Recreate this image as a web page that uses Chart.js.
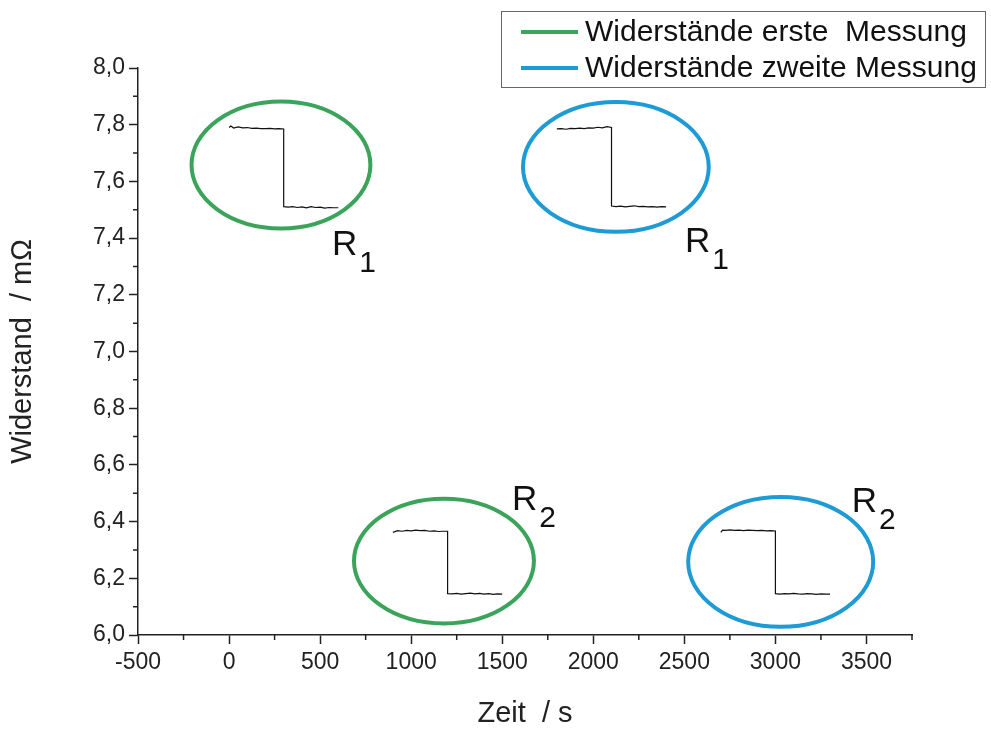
<!DOCTYPE html>
<html>
<head>
<meta charset="utf-8">
<script src="https://cdn.jsdelivr.net/npm/chart.js@4.4.0/dist/chart.umd.min.js"></script>
<style>
  html, body { margin: 0; padding: 0; background: #fff; }
</style>
</head>
<body>
<canvas id="resChart" width="991" height="734"></canvas>
<script>
// Widerstände, erste Messung
const r1FirstTime = [0, 10, 25, 50, 75, 100, 125, 150, 175, 200, 225, 250, 275, 300, 300, 325, 350, 375, 400, 425, 450, 475, 500, 525, 550, 575, 600];
const r1FirstValue = [7.790, 7.795, 7.788, 7.792, 7.789, 7.790, 7.787, 7.788, 7.786, 7.786, 7.787, 7.785, 7.786, 7.785, 7.511, 7.509, 7.511, 7.508, 7.510, 7.507, 7.511, 7.508, 7.509, 7.506, 7.508, 7.507, 7.507];
const r2FirstTime = [900, 925, 950, 975, 1000, 1025, 1050, 1075, 1100, 1125, 1150, 1175, 1200, 1200, 1225, 1250, 1275, 1300, 1325, 1350, 1375, 1400, 1425, 1450, 1475, 1500];
const r2FirstValue = [6.362, 6.368, 6.366, 6.369, 6.367, 6.370, 6.368, 6.369, 6.366, 6.367, 6.365, 6.366, 6.366, 6.146, 6.145, 6.147, 6.144, 6.146, 6.148, 6.145, 6.147, 6.144, 6.146, 6.143, 6.145, 6.144];

// Widerstände, zweite Messung
const r1SecondTime = [1800, 1825, 1850, 1875, 1900, 1925, 1950, 1975, 2000, 2025, 2050, 2075, 2100, 2100, 2125, 2150, 2175, 2200, 2225, 2250, 2275, 2300, 2325, 2350, 2375, 2400];
const r1SecondValue = [7.785, 7.786, 7.784, 7.787, 7.786, 7.788, 7.786, 7.789, 7.788, 7.791, 7.789, 7.793, 7.790, 7.513, 7.511, 7.513, 7.510, 7.512, 7.514, 7.511, 7.512, 7.510, 7.511, 7.509, 7.511, 7.510];
const r2SecondTime = [2700, 2710, 2725, 2750, 2775, 2800, 2825, 2850, 2875, 2900, 2925, 2950, 2975, 3000, 3000, 3025, 3050, 3075, 3100, 3125, 3150, 3175, 3200, 3225, 3250, 3275, 3300];
const r2SecondValue = [6.362, 6.370, 6.369, 6.371, 6.369, 6.370, 6.368, 6.370, 6.369, 6.368, 6.369, 6.367, 6.368, 6.367, 6.146, 6.144, 6.146, 6.145, 6.147, 6.145, 6.144, 6.146, 6.145, 6.143, 6.145, 6.144, 6.144];

// Markierungen (Ellipsen) in Datenkoordinaten
const ringCenterTime = [285, 1180, 2124, 3029];
const ringCenterValue = [7.658, 6.261, 7.651, 6.258];
const ringRadiusTime = [491, 494, 510, 508];
const ringRadiusValue = [0.224, 0.220, 0.229, 0.229];
const ringGroup = [0, 0, 1, 1];

// Beschriftungen R1 / R2
const tagText = ['R', 'R', 'R', 'R'];
const tagIndex = ['1', '2', '1', '2'];
const tagTime = [565, 1553, 2503, 3419];
const tagValue = [7.340, 6.441, 7.351, 6.434];

const legendLabels = ['Widerstände erste  Messung', 'Widerstände zweite Messung'];
const groupColors = ['#3ba35a', '#1e9bd4'];

// Achsen
const xTickValues = [-500, 0, 500, 1000, 1500, 2000, 2500, 3000, 3500];
const yTickValues = [6.0, 6.2, 6.4, 6.6, 6.8, 7.0, 7.2, 7.4, 7.6, 7.8, 8.0];
const xMin = -500;
const xMax = 3750;
const yMin = 6.0;
const yMax = 8.0;

const FONT = "'Liberation Sans', Arial, sans-serif";

const toPoints = (times, values) => times.map((t, i) => ({ x: t, y: values[i] }));

const traceDataset = (label, times, values) => ({
    label: label,
    data: toPoints(times, values),
    borderColor: '#111',
    borderWidth: 1.2,
    pointRadius: 0,
    tension: 0,
    fill: false
});

const ringsPlugin = {
    id: 'rings',
    afterDatasetsDraw(chart) {
        const ctx = chart.ctx;
        const xs = chart.scales.x;
        const ys = chart.scales.y;
        ctx.save();
        for (let i = 0; i < ringCenterTime.length; i++) {
            const cx = xs.getPixelForValue(ringCenterTime[i]);
            const cy = ys.getPixelForValue(ringCenterValue[i]);
            const rx = Math.abs(xs.getPixelForValue(ringCenterTime[i] + ringRadiusTime[i]) - cx);
            const ry = Math.abs(ys.getPixelForValue(ringCenterValue[i] + ringRadiusValue[i]) - cy);
            ctx.beginPath();
            ctx.ellipse(cx, cy, rx, ry, 0, 0, Math.PI * 2);
            ctx.strokeStyle = groupColors[ringGroup[i]];
            ctx.lineWidth = 4;
            ctx.stroke();
        }
        // R-Beschriftungen
        ctx.fillStyle = '#111';
        ctx.textBaseline = 'alphabetic';
        ctx.textAlign = 'left';
        for (let i = 0; i < tagText.length; i++) {
            const px = xs.getPixelForValue(tagTime[i]);
            const py = ys.getPixelForValue(tagValue[i]);
            ctx.font = '35px ' + FONT;
            ctx.fillText(tagText[i], px, py);
            const w = ctx.measureText(tagText[i]).width;
            ctx.font = '30px ' + FONT;
            ctx.fillText(tagIndex[i], px + w + 2, py + 17);
        }
        ctx.restore();
    }
};

const minorTicksPlugin = {
    id: 'minorTicks',
    afterDraw(chart) {
        const ctx = chart.ctx;
        const xs = chart.scales.x;
        const ys = chart.scales.y;
        ctx.save();
        ctx.strokeStyle = '#222';
        ctx.lineWidth = 1.5;
        ctx.beginPath();
        const xt = xs.ticks.map(t => t.value);
        for (let i = 0; i < xt.length; i++) {
            const mid = i < xt.length - 1 ? (xt[i] + xt[i + 1]) / 2 : xt[i] + (xt[1] - xt[0]) / 2;
            if (mid > xs.max) continue;
            const px = xs.getPixelForValue(mid);
            ctx.moveTo(px, xs.top);
            ctx.lineTo(px, xs.top + 5);
        }
        const yt = ys.ticks.map(t => t.value);
        for (let i = 0; i < yt.length - 1; i++) {
            const py = ys.getPixelForValue((yt[i] + yt[i + 1]) / 2);
            ctx.moveTo(ys.right, py);
            ctx.lineTo(ys.right - 5, py);
        }
        ctx.stroke();
        ctx.restore();
    }
};

const boxLegendPlugin = {
    id: 'boxLegend',
    afterDraw(chart) {
        const ctx = chart.ctx;
        ctx.save();
        ctx.strokeStyle = '#666';
        ctx.lineWidth = 1;
        ctx.strokeRect(501.5, 11.5, 484, 76);
        ctx.font = '30px ' + FONT;
        ctx.textBaseline = 'middle';
        ctx.textAlign = 'left';
        legendLabels.forEach((label, i) => {
            const y = 32 + i * 36;
            ctx.beginPath();
            ctx.moveTo(521, y);
            ctx.lineTo(578, y);
            ctx.strokeStyle = groupColors[i];
            ctx.lineWidth = 4;
            ctx.stroke();
            ctx.fillStyle = '#111';
            ctx.fillText(label, 585, y + 1);
        });
        ctx.restore();
    }
};

const ctx = document.getElementById('resChart').getContext('2d');
new Chart(ctx, {
    type: 'line',
    data: {
        datasets: [
            traceDataset('R1 erste Messung', r1FirstTime, r1FirstValue),
            traceDataset('R2 erste Messung', r2FirstTime, r2FirstValue),
            traceDataset('R1 zweite Messung', r1SecondTime, r1SecondValue),
            traceDataset('R2 zweite Messung', r2SecondTime, r2SecondValue)
        ]
    },
    options: {
        responsive: false,
        animation: false,
        layout: { padding: { top: 68, right: 79, left: 0, bottom: 0 } },
        plugins: {
            legend: { display: false },
            tooltip: { enabled: false }
        },
        scales: {
            x: {
                type: 'linear',
                min: xMin,
                max: xMax,
                afterFit: (scale) => { scale.height = 99; },
                afterBuildTicks: (scale) => { scale.ticks = xTickValues.map(v => ({ value: v })); },
                border: { display: true, color: '#222', width: 1.5 },
                grid: { drawOnChartArea: false, drawTicks: true, tickLength: 9, tickColor: '#222', tickWidth: 1.5 },
                ticks: {
                    autoSkip: false,
                    padding: 5,
                    color: '#222',
                    maxRotation: 0,
                    font: { family: FONT, size: 23 },
                    callback: (v) => String(v)
                },
                title: {
                    display: true,
                    text: 'Zeit  / s',
                    color: '#222',
                    font: { family: FONT, size: 29 },
                    padding: { top: 0, bottom: 3 }
                }
            },
            y: {
                type: 'linear',
                min: yMin,
                max: yMax,
                afterFit: (scale) => { scale.width = 138; },
                afterBuildTicks: (scale) => { scale.ticks = yTickValues.map(v => ({ value: v })); },
                border: { display: true, color: '#222', width: 1.5 },
                grid: { drawOnChartArea: false, drawTicks: true, tickLength: 9, tickColor: '#222', tickWidth: 1.5 },
                ticks: {
                    autoSkip: false,
                    padding: 4,
                    color: '#222',
                    font: { family: FONT, size: 23 },
                    callback: (v) => v.toFixed(1).replace('.', ',')
                },
                title: {
                    display: true,
                    text: 'Widerstand  / mΩ',
                    color: '#222',
                    font: { family: FONT, size: 29 },
                    padding: { top: 6, bottom: 0 }
                }
            }
        }
    },
    plugins: [ringsPlugin, minorTicksPlugin, boxLegendPlugin]
});
</script>
</body>
</html>
